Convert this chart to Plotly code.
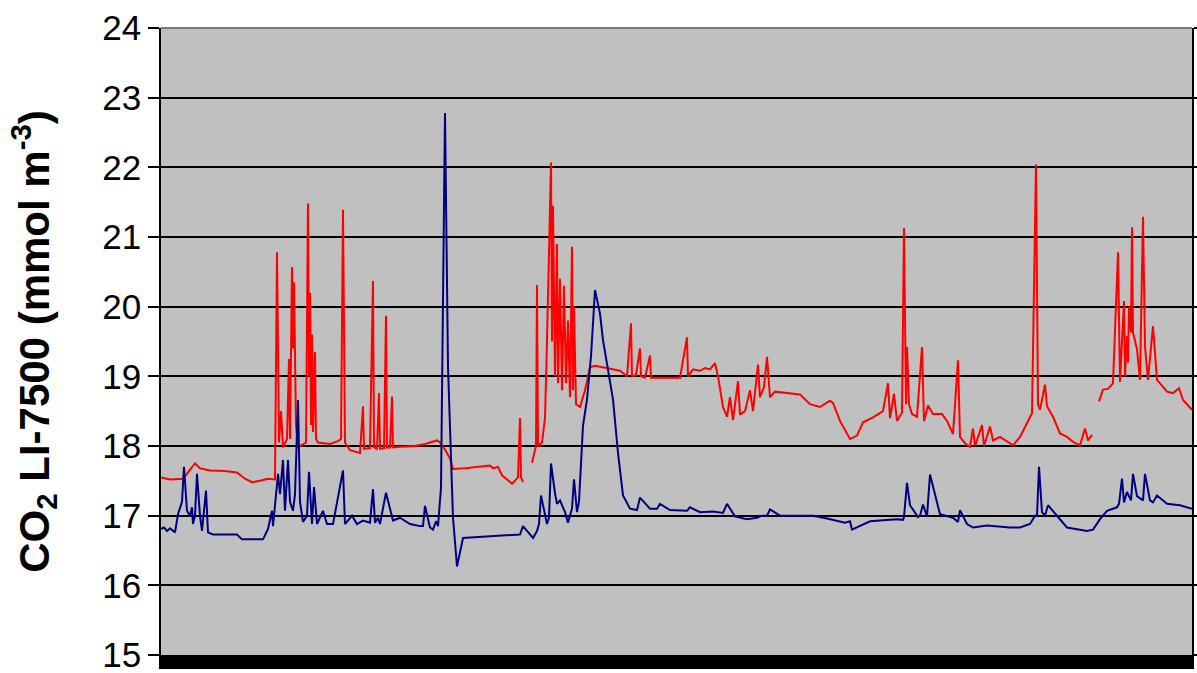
import plotly.graph_objects as go

# Sample index (time steps) and CO2 concentration for the red series
red_t = [0, 9, 22, 29, 34, 39, 49, 64, 76, 84, 91, 99, 107, 114, 116, 118, 120, 122, 126, 128, 129, 131,
         132, 133, 135, 137, 142, 145, 147, 148, 149, 150, 151, 152, 154, 155, 157, 161, 169, 177, 180, 182,
         184, 189, 195, 199, 202, 203, 209, 212, 213, 216, 218, 219, 223, 225, 226, 229, 231, 232, 239, 254,
         264, 276, 279, 284, 289, 292, 304, 319, 329, 332, 337, 341, 347, 351, 357, 359, 360, 362,
         366,
         371, 375, 376, 377, 381, 384, 386, 388, 390, 391, 392, 394, 396, 397, 399, 401, 403, 405, 407, 409,
         411, 412, 413, 415, 419, 424, 429, 434, 444, 454, 459, 466, 470, 471, 475, 479, 480, 484, 489, 490,
         499, 509, 519, 526, 527, 532, 539, 544, 549, 554, 557, 562, 566, 569, 572, 577, 579, 584, 589, 592,
         597, 599, 603, 606, 609, 614, 624, 634, 639, 649, 659, 669, 672, 679, 689, 696, 702, 712, 722, 727,
         729, 733, 736, 741, 743, 745, 746, 748, 751, 756, 761, 763, 767, 772, 781, 786, 792, 797, 799, 804,
         809, 812, 814, 821, 823, 829, 832, 839, 849, 852, 859, 866, 871, 875, 876, 877, 879, 884, 886, 892,
         899, 906, 912, 919, 924, 927, 931,
         934,
         938, 942, 947, 952, 957, 959, 963, 964, 966, 967, 968, 970, 971, 972, 976, 979, 982, 984, 987, 992,
         996, 999, 1006, 1012, 1018, 1022, 1031]
red_co2 = [17.55, 17.52, 17.53, 17.65, 17.75, 17.68, 17.65, 17.64, 17.62, 17.53, 17.48, 17.50, 17.53, 17.52,
           20.78, 18.05, 18.50, 17.98, 18.10, 19.25, 18.10, 20.57, 19.40, 20.35, 18.30, 17.98, 18.02, 18.05,
           21.48, 19.00, 20.20, 18.30, 19.60, 18.20, 19.35, 18.10, 18.05, 18.04, 18.03, 18.07, 18.10, 21.39,
           18.05, 17.94, 17.92, 17.90, 18.57, 17.96, 17.97, 20.37, 17.98, 17.96, 18.76, 17.96, 17.97, 19.87,
           17.98, 17.98, 18.71, 17.98, 17.99, 18.00, 18.03, 18.08, 18.05, 17.95, 17.82, 17.67, 17.68, 17.70,
           17.72, 17.68, 17.70, 17.58, 17.50, 17.46, 17.55, 18.40, 17.55, 17.48,
           None,
           17.76, 18.00, 20.31, 18.00, 18.05, 18.40, 19.50, 20.90, 22.07, 19.50, 21.45, 19.00, 20.90, 18.90,
           20.40, 18.80, 20.30, 18.90, 19.80, 18.70, 20.86, 18.80, 20.00, 18.60, 18.56, 18.80, 19.13, 19.15,
           19.12, 19.10, 19.08, 19.00, 19.76, 19.00, 19.02, 19.40, 19.00, 18.98, 19.30, 18.98, 18.98, 18.98,
           18.98, 19.56, 19.00, 19.10, 19.08, 19.12, 19.10, 19.19, 19.00, 18.56, 18.42, 18.70, 18.37, 18.93,
           18.45, 18.50, 18.80, 18.50, 19.17, 18.70, 18.85, 19.28, 18.70, 18.78, 18.76, 18.75, 18.74, 18.60,
           18.56, 18.65, 18.62, 18.36, 18.10, 18.15, 18.34, 18.41, 18.50, 18.90, 18.40, 18.75, 18.36, 18.48,
           21.13, 18.60, 19.42, 18.60, 18.46, 18.42, 19.42, 18.36, 18.58, 18.46, 18.46, 18.36, 18.17, 19.23,
           18.13, 18.04, 17.99, 18.25, 18.00, 18.30, 18.00, 18.28, 18.08, 18.13, 18.04, 18.01, 18.13, 18.33,
           18.47, 22.04, 20.20, 18.60, 18.52, 18.88, 18.57, 18.42, 18.18, 18.13, 18.06, 18.01, 18.25, 18.08,
           18.16,
           None,
           18.64, 18.81, 18.82, 18.90, 20.78, 18.92, 20.08, 19.00, 19.58, 19.20, 20.00, 19.63, 21.14, 19.63,
           19.39, 18.95, 21.29, 19.43, 18.95, 19.72, 18.95, 18.90, 18.78, 18.76, 18.83, 18.66, 18.52]

# Sample index and CO2 concentration for the blue series
blue_t = [0, 3, 6, 9, 14, 17, 21, 23, 26, 29, 31, 32, 34, 36, 39, 41, 45, 47, 52, 76, 81, 89, 102, 107, 111,
          112, 115, 117, 119, 122, 124, 127, 129, 132, 134, 137, 139, 142, 146, 148, 151, 153, 156, 159, 162,
          166, 172, 182, 184, 191, 196, 202, 209, 212, 214, 217, 219, 225, 232, 239, 249, 259, 262, 264, 269,
          272, 275, 277, 280, 284, 287, 292, 296, 302, 332, 356, 359, 362, 369, 372, 376, 378, 380, 386, 388,
          390, 394, 396, 399, 404, 407, 411, 413, 416, 418, 422, 426, 430, 434, 439, 442, 447, 452, 457, 462,
          469, 476, 479, 489, 496, 499, 509, 526, 529, 539, 552, 559, 562, 566, 574, 586, 596, 601, 606, 609,
          619, 639, 652, 666, 684, 689, 691, 709, 726, 736, 742, 743, 746, 749, 757, 759, 762, 766, 769, 779,
          792, 797, 799, 806, 812, 826, 849, 859, 869, 874, 876, 878, 881, 884, 887, 896, 906, 926, 932, 939,
          946, 956, 958, 961, 963, 966, 970, 972, 976, 982, 984, 989, 992, 996, 1006, 1019, 1031]
blue_co2 = [16.81, 16.83, 16.78, 16.82, 16.76, 17.02, 17.20, 17.70, 17.07, 17.00, 17.12, 16.88, 17.00, 17.60,
            17.00, 16.78, 17.36, 16.76, 16.73, 16.73, 16.66, 16.66, 16.66, 16.81, 17.07, 16.85, 17.31, 17.60,
            17.31, 17.80, 17.07, 17.80, 17.20, 17.07, 17.31, 18.66, 17.20, 16.91, 17.00, 17.63, 16.88, 17.41,
            16.88, 16.97, 17.07, 16.88, 16.88, 17.65, 16.88, 17.00, 16.88, 16.93, 16.90, 17.38, 16.90, 16.97,
            16.88, 17.33, 16.93, 16.97, 16.88, 16.85, 16.85, 17.14, 16.83, 16.80, 16.92, 16.85, 17.40, 22.78,
            19.14, 16.97, 16.27, 16.68, 16.71, 16.73, 16.73, 16.85, 16.73, 16.68, 16.78, 16.88, 17.29, 16.88,
            16.97, 17.75, 17.32, 17.17, 17.22, 17.05, 16.90, 17.10, 17.52, 17.05, 17.20, 18.29, 18.67, 19.29,
            20.24, 19.90, 19.52, 19.10, 18.67, 17.90, 17.29, 17.10, 17.08, 17.26, 17.10, 17.10, 17.17, 17.08,
            17.07, 17.12, 17.05, 17.06, 17.05, 17.04, 17.17, 16.99, 16.95, 16.97, 17.00, 17.00, 17.09, 17.00,
            17.00, 17.00, 16.96, 16.90, 16.92, 16.80, 16.92, 16.94, 16.95, 16.94, 16.98, 17.47, 17.15, 16.98,
            17.00, 17.16, 16.99, 17.59, 17.02, 16.97, 16.91, 17.08, 16.88, 16.83, 16.86, 16.83, 16.83, 16.88,
            17.00, 17.00, 17.70, 17.05, 17.00, 17.15, 17.00, 16.83, 16.78, 16.80, 16.95, 17.07, 17.12, 17.17,
            17.53, 17.19, 17.34, 17.22, 17.60, 17.28, 17.22, 17.60, 17.22, 17.19, 17.29, 17.17, 17.15, 17.10,
            17.02]

y_ticks = [15, 16, 17, 18, 19, 20, 21, 22, 23, 24]
y_labels = [str(v) for v in y_ticks]

fig = go.Figure()
fig.add_trace(go.Scatter(x=red_t, y=red_co2, mode="lines", connectgaps=False,
                         line=dict(color="#FF0000", width=2), showlegend=False))
fig.add_trace(go.Scatter(x=blue_t, y=blue_co2, mode="lines",
                         line=dict(color="#000080", width=2), showlegend=False))

# Softer grey frame along the top of the plotting area
fig.add_shape(type="line", xref="paper", yref="paper", x0=0, x1=1, y0=1, y1=1,
              line=dict(color="#7A7A7A", width=2), layer="above")

fig.update_layout(
    width=1197, height=673,
    margin=dict(l=161, r=5, t=28, b=18),
    paper_bgcolor="white",
    plot_bgcolor="#C0C0C0",
    font=dict(family="Liberation Sans, Arial, sans-serif", color="black"),
    xaxis=dict(range=[0, 1031], showticklabels=False, showgrid=False, zeroline=False,
               ticks="", showline=True, linecolor="black", linewidth=14, automargin=False),
    yaxis=dict(range=[15, 24], tickvals=y_ticks, ticktext=y_labels, ticks="outside",
               ticklen=11, tickwidth=1.5, tickcolor="black", tickfont=dict(size=35),
               ticklabeloverflow="allow",
               showgrid=True, gridcolor="black", gridwidth=1.8, zeroline=False,
               showline=True, linecolor="black", linewidth=1.5, mirror="ticks", automargin=False,
               title=dict(text="<b>CO<sub>2</sub> LI-7500 (mmol m<sup>-3</sup>)</b>",
                          font=dict(size=42), standoff=40)),
)

fig.write_html("out.html")
